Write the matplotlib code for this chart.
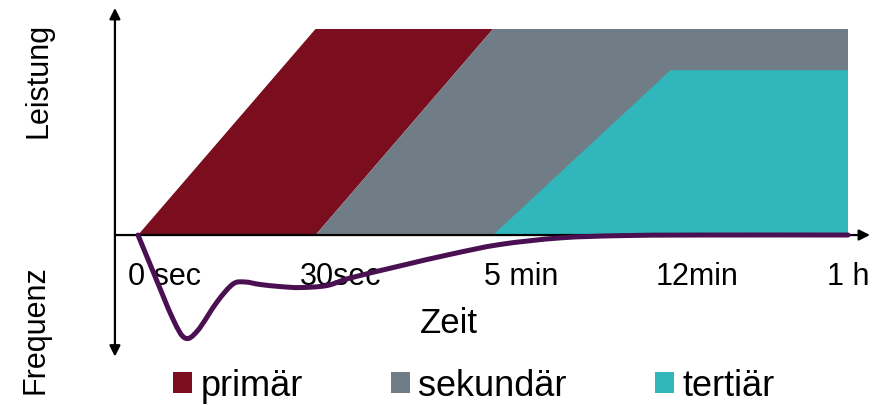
import matplotlib
matplotlib.use("Agg")
import matplotlib.pyplot as plt
from matplotlib.patches import Polygon, Patch, PathPatch
from matplotlib.path import Path

plt.rcParams['font.family'] = ['Liberation Sans', 'DejaVu Sans']

# time axis: 0 sec, 30 sec, 5 min, 12 min, 1 h at equal spacing
tick_labels = ['0 sec', '30sec', '5 min', '12min', '1 h']

# reserve power bands (x = time step, y = power share)
primaer_x = [0, 1, 2, 1]
primaer_y = [0, 1, 1, 0]
sekundaer_x = [1, 2, 4, 4]
sekundaer_y = [0, 1, 1, 0]
tertiaer_x = [2, 3, 4, 4]
tertiaer_y = [0, 0.8, 0.8, 0]

# frequency deviation after the outage
freq_t = [0, 0.079, 0.197, 0.265, 0.335, 0.445, 0.535, 0.603, 0.687,
          0.800, 0.913, 1.065, 1.194, 1.476, 1.758, 2.039,
          2.377, 2.716, 3.166, 4.0]
freq_f = [0, -0.165, -0.408, -0.500, -0.465, -0.325, -0.238, -0.228,
          -0.240, -0.250, -0.255, -0.245, -0.209, -0.150, -0.094, -0.046,
          -0.014, -0.003, 0, 0]

series_names = ['primär', 'sekundär', 'tertiär']
colors = ['#7A0D1E', '#707D86', '#31B6BC']
curve_color = '#4A1052'

fig = plt.figure(figsize=(8.89, 4.06), dpi=100)
ax = fig.add_axes([0, 0, 1, 1])
ax.set_xlim(-0.7775, 4.231)
ax.set_ylim(-0.825, 1.1456)
ax.axis('off')

for xs, ys, c in zip([primaer_x, sekundaer_x, tertiaer_x],
                     [primaer_y, sekundaer_y, tertiaer_y], colors):
    ax.add_patch(Polygon(list(zip(xs, ys)), closed=True, facecolor=c,
                         edgecolor='none', zorder=1))

# axes arrows
ax.annotate('', xy=(-0.13, 1.102), xytext=(-0.13, -0.59),
            arrowprops=dict(arrowstyle='<|-|>', color='black', lw=1.6,
                            mutation_scale=16, shrinkA=0, shrinkB=0), zorder=3)
ax.annotate('', xy=(4.124, 0), xytext=(-0.13, 0),
            arrowprops=dict(arrowstyle='-|>', color='black', lw=1.6,
                            mutation_scale=16, shrinkA=0, shrinkB=0), zorder=3)

# smooth curve through the points (catmull-rom as bezier segments)
pts = list(zip(freq_t, freq_f))
verts = [pts[0]]
codes = [Path.MOVETO]
n = len(pts)
for i in range(n - 1):
    p0 = pts[max(i - 1, 0)]
    p1 = pts[i]
    p2 = pts[i + 1]
    p3 = pts[min(i + 2, n - 1)]
    c1 = (p1[0] + (p2[0] - p0[0]) / 6, p1[1] + (p2[1] - p0[1]) / 6)
    c2 = (p2[0] - (p3[0] - p1[0]) / 6, p2[1] - (p3[1] - p1[1]) / 6)
    verts += [c1, c2, p2]
    codes += [Path.CURVE4] * 3
ax.add_patch(PathPatch(Path(verts, codes), facecolor='none', edgecolor=curve_color,
                       lw=3.6, capstyle='round', joinstyle='round', zorder=4))

label_x = [0.15, 1.14, 2.16, 3.15, 4.0]
for lx, lab in zip(label_x, tick_labels):
    ax.text(lx, -0.238, lab, ha='center', va='baseline', fontsize=22, zorder=2)

ax.text(1.752, -0.471, 'Zeit', ha='center', va='baseline', fontsize=25)
ax.text(-0.563, 0.757, 'Leistung', rotation=90, ha='center', va='center', fontsize=22)
ax.text(-0.575, -0.455, 'Frequenz', rotation=90, ha='center', va='center', fontsize=22)

handles = [Patch(facecolor=c, edgecolor='none', label=n) for c, n in zip(colors, series_names)]
fig.legend(handles=handles, loc='center', bbox_to_anchor=(474 / 889, 1 - 387 / 406),
           ncol=3, frameon=False, fontsize=26, handlelength=0.53, handleheight=0.53,
           handletextpad=0.22, columnspacing=2.45, borderpad=0, borderaxespad=0)

fig.savefig('out.png', dpi=100)
